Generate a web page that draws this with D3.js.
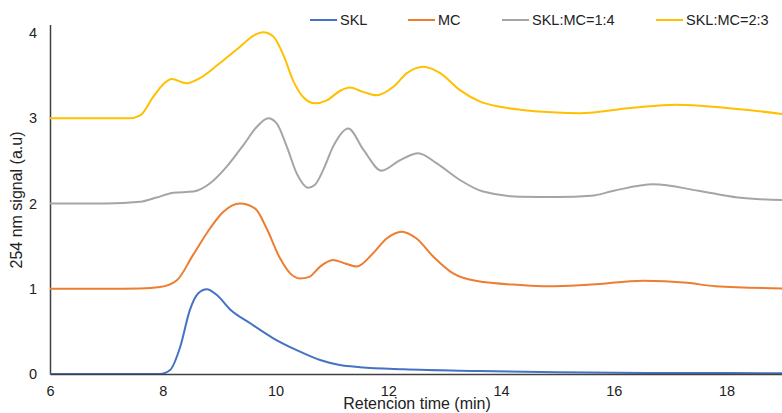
<!DOCTYPE html>
<html>
<head>
<meta charset="utf-8">
<script src="https://cdn.jsdelivr.net/npm/d3@7"></script>
<style>
  html, body { margin: 0; padding: 0; background: #fff; }
  svg { display: block; font-family: "Liberation Sans", Arial, sans-serif; }
</style>
</head>
<body>
<svg id="chart" width="782" height="413"></svg>
<script>
// ---- data ----
const seriesNames = ["SKL", "MC", "SKL:MC=1:4", "SKL:MC=2:3"];
const seriesColors = ["#4472C4", "#ED7D31", "#A5A5A5", "#FFC000"];

const sklTime = [6, 7.0, 7.95, 8.13, 8.31, 8.48, 8.63, 8.78, 8.96, 9.19, 9.55, 9.96, 10.375, 10.79, 11.14, 11.5, 12.27, 13.62, 15, 17, 19];
const sklSignal = [0, 0, 0, 0.047, 0.32, 0.75, 0.947, 0.994, 0.927, 0.76, 0.595, 0.419, 0.28, 0.164, 0.105, 0.08, 0.055, 0.035, 0.02, 0.012, 0.01];

const mcTime = [6, 7.0, 7.6, 7.95, 8.25, 8.54, 8.84, 9.07, 9.37, 9.64, 9.84, 10.08, 10.26, 10.43, 10.6, 10.79, 11.02, 11.22, 11.44, 11.73, 11.97, 12.24, 12.5, 12.8, 13.15, 13.57, 14.34, 14.8, 15.6, 16.52, 17.3, 17.8, 19];
const mcSignal = [1.0, 1.0, 1.004, 1.02, 1.10, 1.40, 1.71, 1.90, 2.0, 1.94, 1.71, 1.357, 1.18, 1.12, 1.14, 1.26, 1.337, 1.30, 1.26, 1.416, 1.59, 1.67, 1.59, 1.376, 1.18, 1.09, 1.044, 1.03, 1.05, 1.095, 1.07, 1.03, 1.004];

const mix14Time = [6, 7.0, 7.6, 7.89, 8.19, 8.54, 8.84, 9.13, 9.43, 9.67, 9.87, 10.02, 10.2, 10.375, 10.58, 10.7, 10.85, 11.02, 11.29, 11.56, 11.88, 12.21, 12.53, 12.86, 13.27, 13.68, 14.34, 15.0, 15.6, 16.0, 16.7, 17.5, 18.2, 19];
const mix14Signal = [2.0, 2.0, 2.02, 2.07, 2.127, 2.14, 2.237, 2.43, 2.686, 2.90, 3.0, 2.94, 2.667, 2.354, 2.186, 2.22, 2.40, 2.667, 2.88, 2.63, 2.385, 2.51, 2.59, 2.47, 2.276, 2.14, 2.08, 2.075, 2.09, 2.15, 2.225, 2.15, 2.07, 2.04];

const mix23Time = [6, 7.0, 7.4, 7.6, 7.83, 8.01, 8.16, 8.42, 8.66, 9.01, 9.37, 9.61, 9.78, 9.96, 10.14, 10.32, 10.49, 10.7, 10.91, 11.14, 11.32, 11.55, 11.79, 12.09, 12.33, 12.62, 12.92, 13.27, 13.63, 13.98, 14.34, 14.9, 15.4, 16.3, 17.11, 18.0, 19];
const mix23Signal = [3.0, 3.0, 3.0, 3.035, 3.25, 3.40, 3.46, 3.41, 3.47, 3.645, 3.84, 3.97, 4.01, 3.96, 3.74, 3.43, 3.25, 3.175, 3.21, 3.32, 3.36, 3.31, 3.27, 3.37, 3.53, 3.605, 3.53, 3.33, 3.195, 3.135, 3.10, 3.07, 3.06, 3.12, 3.16, 3.12, 3.05];

const xTicks = [6, 8, 10, 12, 14, 16, 18];
const yTicks = [0, 1, 2, 3, 4];
const xTitle = "Retencion time (min)";
const yTitle = "254 nm signal (a.u)";

const allSeries = [
  { name: seriesNames[0], color: seriesColors[0], t: sklTime, v: sklSignal },
  { name: seriesNames[1], color: seriesColors[1], t: mcTime, v: mcSignal },
  { name: seriesNames[2], color: seriesColors[2], t: mix14Time, v: mix14Signal },
  { name: seriesNames[3], color: seriesColors[3], t: mix23Time, v: mix23Signal }
];

// ---- layout ----
const svg = d3.select("#chart");
const x = d3.scaleLinear().domain([6, 19]).range([50, 783]);
const y = d3.scaleLinear().domain([0, 4.1]).range([374, 24.5]);

// axes
const xAxis = d3.axisBottom(x).tickValues(xTicks).tickSize(0).tickPadding(12).tickFormat(d3.format("d"));
const gx = svg.append("g").attr("transform", `translate(0,${y(0)})`).call(xAxis);
gx.select(".domain").attr("stroke", "#404040").attr("stroke-width", 1.5);
gx.selectAll("text").attr("font-size", 14.5).attr("fill", "#222").attr("font-family", "Liberation Sans, Arial, sans-serif");

const yAxis = d3.axisLeft(y).tickValues(yTicks).tickSize(0).tickPadding(13).tickFormat(d3.format("d"));
const gy = svg.append("g").attr("transform", `translate(${x(6)},0)`).call(yAxis);
gy.select(".domain").attr("stroke", "#404040").attr("stroke-width", 1.5);
gy.selectAll("text").attr("font-size", 14.5).attr("fill", "#222").attr("font-family", "Liberation Sans, Arial, sans-serif");

// lines
const line = d3.line()
  .x(d => x(d[0]))
  .y(d => y(d[1]))
  .curve(d3.curveMonotoneX);

svg.append("g").selectAll("path")
  .data(allSeries)
  .join("path")
  .attr("fill", "none")
  .attr("stroke", d => d.color)
  .attr("stroke-width", 2)
  .attr("d", d => line(d.t.map((t, i) => [t, d.v[i]])));

gx.raise();

// titles
svg.append("text")
  .attr("x", 417)
  .attr("y", 409)
  .attr("text-anchor", "middle")
  .attr("font-size", 16)
  .attr("fill", "#222")
  .text(xTitle);

svg.append("text")
  .attr("transform", "translate(22,200) rotate(-90)")
  .attr("text-anchor", "middle")
  .attr("font-size", 16)
  .attr("fill", "#222")
  .text(yTitle);

// legend
const legendX = [310, 408, 502, 656];
const leg = svg.append("g");
allSeries.forEach((s, i) => {
  const g = leg.append("g").attr("transform", `translate(${legendX[i]},20)`);
  g.append("line").attr("x1", 0).attr("x2", 27).attr("y1", 0).attr("y2", 0)
    .attr("stroke", s.color).attr("stroke-width", 2);
  g.append("text").attr("x", 30).attr("y", 5).attr("font-size", 14.5).attr("fill", "#222").text(s.name);
});
</script>
</body>
</html>
